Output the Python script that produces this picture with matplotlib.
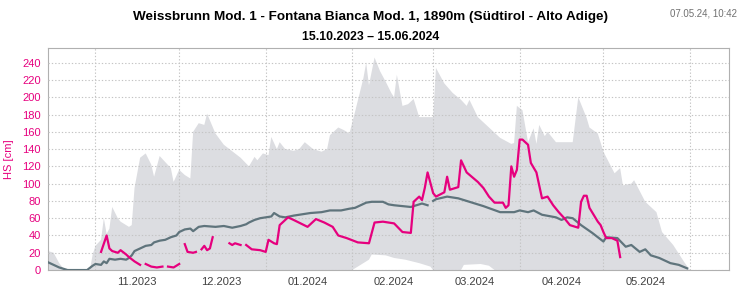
import numpy as np
import matplotlib.pyplot as plt
import matplotlib.dates as mdates

plt.rcParams['font.family'] = ['Liberation Sans', 'DejaVu Sans']

inicio = np.datetime64('2023-10-15')
fim = np.datetime64('2024-06-15')

# dias desde 15.10.2023 e altura de neve (cm)
dias_max = [0, 2, 4, 6, 15, 16, 17, 19, 20, 21, 22, 23, 25, 26, 29, 30, 31, 33, 35, 37, 38, 40, 42, 44, 45,
            47, 49, 51, 52, 54, 56, 57, 60, 63, 69, 72, 74, 75, 77, 79, 80, 82, 83, 85, 88, 90, 92, 95, 98,
            100, 101, 104, 106, 108, 110, 113, 114, 115, 117, 119, 121, 123, 124, 125, 127, 129, 131, 133,
            138, 139, 142, 145, 148, 150, 151, 154, 158, 162, 166, 167, 168, 170, 172, 174, 175, 176, 178,
            179, 182, 188, 190, 193, 194, 197, 199, 203, 205, 206, 209, 210, 214, 218, 220, 224, 228, 230]
hs_max = [22, 20, 8, 0, 0, 18, 28, 35, 60, 42, 48, 73, 60, 56, 50, 52, 95, 130, 135, 122, 108, 132, 125, 118, 102,
          116, 110, 106, 160, 170, 168, 181, 158, 145, 130, 120, 131, 127, 135, 133, 154, 140, 148, 140, 138, 140, 148, 140, 137,
          140, 156, 165, 162, 158, 183, 222, 240, 214, 246, 230, 218, 205, 200, 226, 190, 192, 198, 177,
          177, 234, 216, 205, 197, 190, 197, 177, 165, 153, 146, 147, 190, 185, 148, 164, 146, 168, 155,
          160, 148, 148, 200, 176, 165, 158, 137, 112, 118, 98, 100, 104, 79, 67, 44, 29, 9, 0]

dias_min = [0, 109, 112, 115, 116, 121, 124, 128, 133, 137, 138, 148, 149, 155, 158, 160, 230]
hs_min = [0, 0, 6, 12, 18, 17, 14, 12, 8, 4, 0, 0, 6, 7, 5, 0, 0]

dias_media = [0, 2, 4, 6, 7, 14, 16, 17, 19, 20, 21, 22, 24, 26, 28, 29, 30, 31, 33, 35, 37, 38, 40, 42, 44,
              46, 47, 49, 51, 52, 54, 56, 60, 63, 66, 69, 71, 72, 74, 76, 78, 80, 81, 83, 85, 88, 90, 94, 98,
              101, 105, 108, 110, 114, 116, 120, 122, 124, 130, 134, 136, 137, 138, 139, 143, 147, 151, 156,
              162, 166, 167, 169, 172, 174, 177, 182, 184, 186, 188, 191, 195, 199, 200, 204, 207, 209, 212,
              214, 216, 219, 223, 226, 229]
hs_media = [9, 6, 3, 1, 0, 0, 5, 7, 6, 10, 8, 13, 12, 13, 12, 14, 17, 22, 25, 28, 29, 32, 34, 35, 38,
            40, 44, 47, 48, 45, 50, 51, 50, 51, 49, 51, 53, 55, 58, 60, 61, 62, 66, 62, 61, 63, 64, 66, 67,
            69, 69, 71, 72, 78, 79, 79, 76, 75, 73, 77, 75, np.nan, 80, 82, 85, 83, 79, 74,
            67, 67, 67, 69, 67, 69, 64, 61, 58, 61, 60, 52, 43, 33, 38, 37, 27, 29, 21,
            24, 17, 14, 8, 6, 2]

dias_atual = [19, 21, 22, 23, 25, 26, 28, 29, 31, 33, 34,
              35, 37, 39, 41, 42,
              43, 45, 47, 48,
              49, 50, 52, 53, 54,
              55, 56, 57, 58, 59, 62,
              65, 66, 67, 69, 70,
              71, 73, 76, 78, 79, 81, 82, 83, 86, 88, 93, 96, 99, 102, 104, 107, 111, 115, 117, 120, 124,
              127, 130, 131, 133, 134, 135, 136, 138, 139, 142, 143, 144, 147, 148, 150, 154, 156, 158, 160,
              163, 164, 165, 166, 167, 168, 169, 170, 172, 173, 175, 176, 177, 179, 181, 183, 185, 187, 190,
              191, 192, 193, 194, 197, 198, 199, 200, 202, 204, 205]
hs_atual = [21, 40, 25, 22, 20, 23, 18, 15, 10, 6, np.nan,
            7, 4, 3, 4, np.nan,
            4, 3, 7, np.nan,
            30, 21, 20, 21, np.nan,
            24, 28, 23, 25, 38, np.nan,
            31, 29, 31, 29, np.nan,
            29, 24, 23, 21, 35, 31, 30, 52, 61, 58, 50, 59, 55, 50, 40, 37, 32, 31, 55, 56, 54,
            44, 43, 79, 85, 81, 95, 113, 89, 85, 90, 108, 93, 96, 127, 113, 102, 95, 85, 78,
            78, 72, 75, 120, 108, 116, 151, 151, 145, 124, 113, 98, 83, 85, 75, 67, 60, 52, 49,
            79, 86, 86, 72, 56, 52, 44, 37, 37, 34, 15]


def datas(dias):
    return inicio + np.array(dias).astype('timedelta64[D]')


cor_atual = '#e6007e'
cor_media = '#5f747c'
cor_faixa = '#dcdde1'

fig = plt.figure(figsize=(7.41, 2.91), dpi=100)
ax = fig.add_axes([0.0648, 0.072, 0.919, 0.763])

# faixa min-max
x_faixa = np.concatenate([datas(dias_max), datas(dias_min)[::-1]])
y_faixa = np.concatenate([hs_max, hs_min[::-1]])
ax.fill(x_faixa, y_faixa, color=cor_faixa, lw=0, zorder=1)

ax.plot(datas(dias_media), hs_media, color=cor_media, lw=1.6, zorder=3)
ax.plot(datas(dias_atual), hs_atual, color=cor_atual, lw=1.6, zorder=4)

ax.set_xlim(inicio, fim)
ax.set_ylim(0, 257)
ax.set_yticks(range(0, 241, 20))

# grade no inicio do mes, rotulo no meio do mes
ax.xaxis.set_major_locator(mdates.MonthLocator())
ax.xaxis.set_major_formatter(plt.NullFormatter())
ax.xaxis.set_minor_locator(mdates.MonthLocator(bymonth=[11, 12, 1, 2, 3, 4, 5], bymonthday=16))
ax.xaxis.set_minor_formatter(mdates.DateFormatter('%m.%Y'))
ax.tick_params(axis='x', which='both', length=0, pad=5, labelsize=8, labelcolor='#404040')
ax.tick_params(axis='y', length=0, pad=5, labelsize=8, labelcolor=cor_atual)

ax.grid(True, which='major', color='#c4c4c4', linestyle=(0, (1.2, 1.8)), lw=0.8, zorder=2)
ax.set_axisbelow(False)
for sp in ax.spines.values():
    sp.set_color('#b0b0b0')
    sp.set_linewidth(0.8)

ax.set_ylabel('HS [cm]', color=cor_atual, fontsize=8, labelpad=6)

fig.text(0.5, 0.942, 'Weissbrunn Mod. 1 - Fontana Bianca Mod. 1, 1890m (Südtirol - Alto Adige)',
         ha='center', va='center', fontsize=9.7, fontweight='bold')
fig.text(0.5, 0.873, '15.10.2023 – 15.06.2024', ha='center', va='center', fontsize=8.8, fontweight='bold')
fig.text(0.995, 0.952, '07.05.24, 10:42', ha='right', va='center', fontsize=7, color='#707070')

fig.savefig('out.png', dpi=100)
